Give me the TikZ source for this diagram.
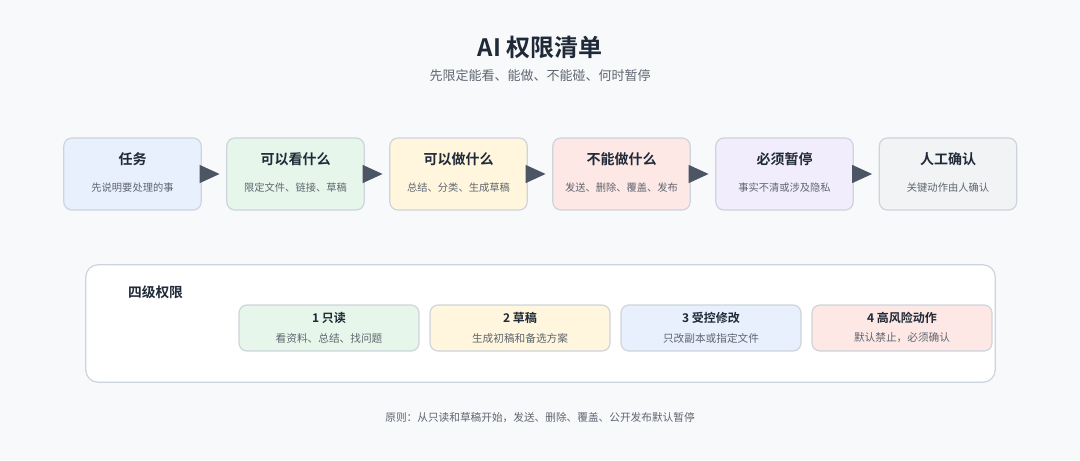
\documentclass[tikz,border=0pt]{standalone}
\usepackage{fontspec}
\setmainfont{Noto Sans CJK SC}[BoldFont={Noto Sans CJK SC Bold}]
\usetikzlibrary{arrows.meta}

\definecolor{bgc}{HTML}{F8F9FB}
\definecolor{edgec}{HTML}{CDD4DC}
\definecolor{inkc}{HTML}{1F2937}
\definecolor{greyc}{HTML}{5F6670}
\definecolor{arrowc}{HTML}{4B5563}
\definecolor{bluec}{HTML}{E8F0FD}
\definecolor{greenc}{HTML}{E7F6EA}
\definecolor{yellowc}{HTML}{FFF6DD}
\definecolor{pinkc}{HTML}{FDE8E5}
\definecolor{purplec}{HTML}{F1EDFD}
\definecolor{grayc}{HTML}{F1F3F5}

\begin{document}
\begin{tikzpicture}[x=0.75pt,y=-0.75pt,
  stepbox/.style={draw=edgec, line width=0.9pt, rounded corners=6pt, minimum width=103pt, minimum height=54pt},
  levelbox/.style={draw=edgec, line width=0.9pt, rounded corners=6pt, minimum width=135pt, minimum height=34.5pt},
  head/.style={font=\bfseries\fontsize{10.5pt}{12pt}\selectfont, text=inkc},
  sub/.style={font=\fontsize{7.7pt}{9pt}\selectfont, text=greyc},
  lhead/.style={font=\bfseries\fontsize{9pt}{11pt}\selectfont, text=inkc},
  lsub/.style={font=\fontsize{8pt}{10pt}\selectfont, text=greyc},
  flow/.style={draw=arrowc, line width=1pt, -{Triangle[length=15pt,width=13.5pt]}, shorten >=5pt}]
\fill[bgc] (0,0) rectangle (1080,460);
\useasboundingbox (0,0) rectangle (1080,460);

% title
\node(Title)[font=\bfseries\fontsize{18pt}{20pt}\selectfont, text=inkc] at (540,47) {AI 权限清单};
\node(Subtitle)[font=\fontsize{9.75pt}{11pt}\selectfont, text=greyc] at (540,76) {先限定能看、能做、不能碰、何时暂停};

% steps
\node(S1)[stepbox, fill=bluec] at (132.5,174) {};
\node(S2)[stepbox, fill=greenc] at (295.5,174) {};
\node(S3)[stepbox, fill=yellowc] at (458.5,174) {};
\node(S4)[stepbox, fill=pinkc] at (621.5,174) {};
\node(S5)[stepbox, fill=purplec] at (784.5,174) {};
\node(S6)[stepbox, fill=grayc] at (948,174) {};

\node(S1h)[head] at (132.5,159) {任务};
\node(S1s)[sub] at (132.5,188) {先说明要处理的事};
\node(S2h)[head] at (295.5,159) {可以看什么};
\node(S2s)[sub] at (295.5,188) {限定文件、链接、草稿};
\node(S3h)[head] at (458.5,159) {可以做什么};
\node(S3s)[sub] at (458.5,188) {总结、分类、生成草稿};
\node(S4h)[head] at (621.5,159) {不能做什么};
\node(S4s)[sub] at (621.5,188) {发送、删除、覆盖、发布};
\node(S5h)[head] at (784.5,159) {必须暂停};
\node(S5s)[sub] at (784.5,188) {事实不清或涉及隐私};
\node(S6h)[head] at (948,159) {人工确认};
\node(S6s)[sub] at (948,188) {关键动作由人确认};

\draw (S1.east) edge[flow] (S2.west);
\draw (S2.east) edge[flow] (S3.west);
\draw (S3.east) edge[flow] (S4.west);
\draw (S4.east) edge[flow] (S5.west);
\draw (S5.east) edge[flow] (S6.west);

% levels
\node(Panel)[draw=edgec, line width=0.9pt, fill=white, rounded corners=9pt, minimum width=682pt, minimum height=88pt] at (540.5,323.5) {};
\node(Levels)[font=\bfseries\fontsize{10.3pt}{12pt}\selectfont, text=inkc] at (155.5,292) {四级权限};

\node(L1)[levelbox, fill=greenc] at (329,328) {};
\node(L2)[levelbox, fill=yellowc] at (520,328) {};
\node(L3)[levelbox, fill=bluec] at (711,328) {};
\node(L4)[levelbox, fill=pinkc] at (902,328) {};

\node(L1h)[lhead] at (329,318) {1 只读};
\node(L1s)[lsub] at (329,338) {看资料、总结、找问题};
\node(L2h)[lhead] at (520,318) {2 草稿};
\node(L2s)[lsub] at (520,338) {生成初稿和备选方案};
\node(L3h)[lhead] at (711,318) {3 受控修改};
\node(L3s)[lsub] at (711,338) {只改副本或指定文件};
\node(L4h)[lhead] at (902,318) {4 高风险动作};
\node(L4s)[lsub] at (902,338) {默认禁止，必须确认};

% footer
\node(Rule)[font=\fontsize{8pt}{10pt}\selectfont, text=greyc] at (540,418) {原则：从只读和草稿开始，发送、删除、覆盖、公开发布默认暂停};
\end{tikzpicture}
\end{document}
